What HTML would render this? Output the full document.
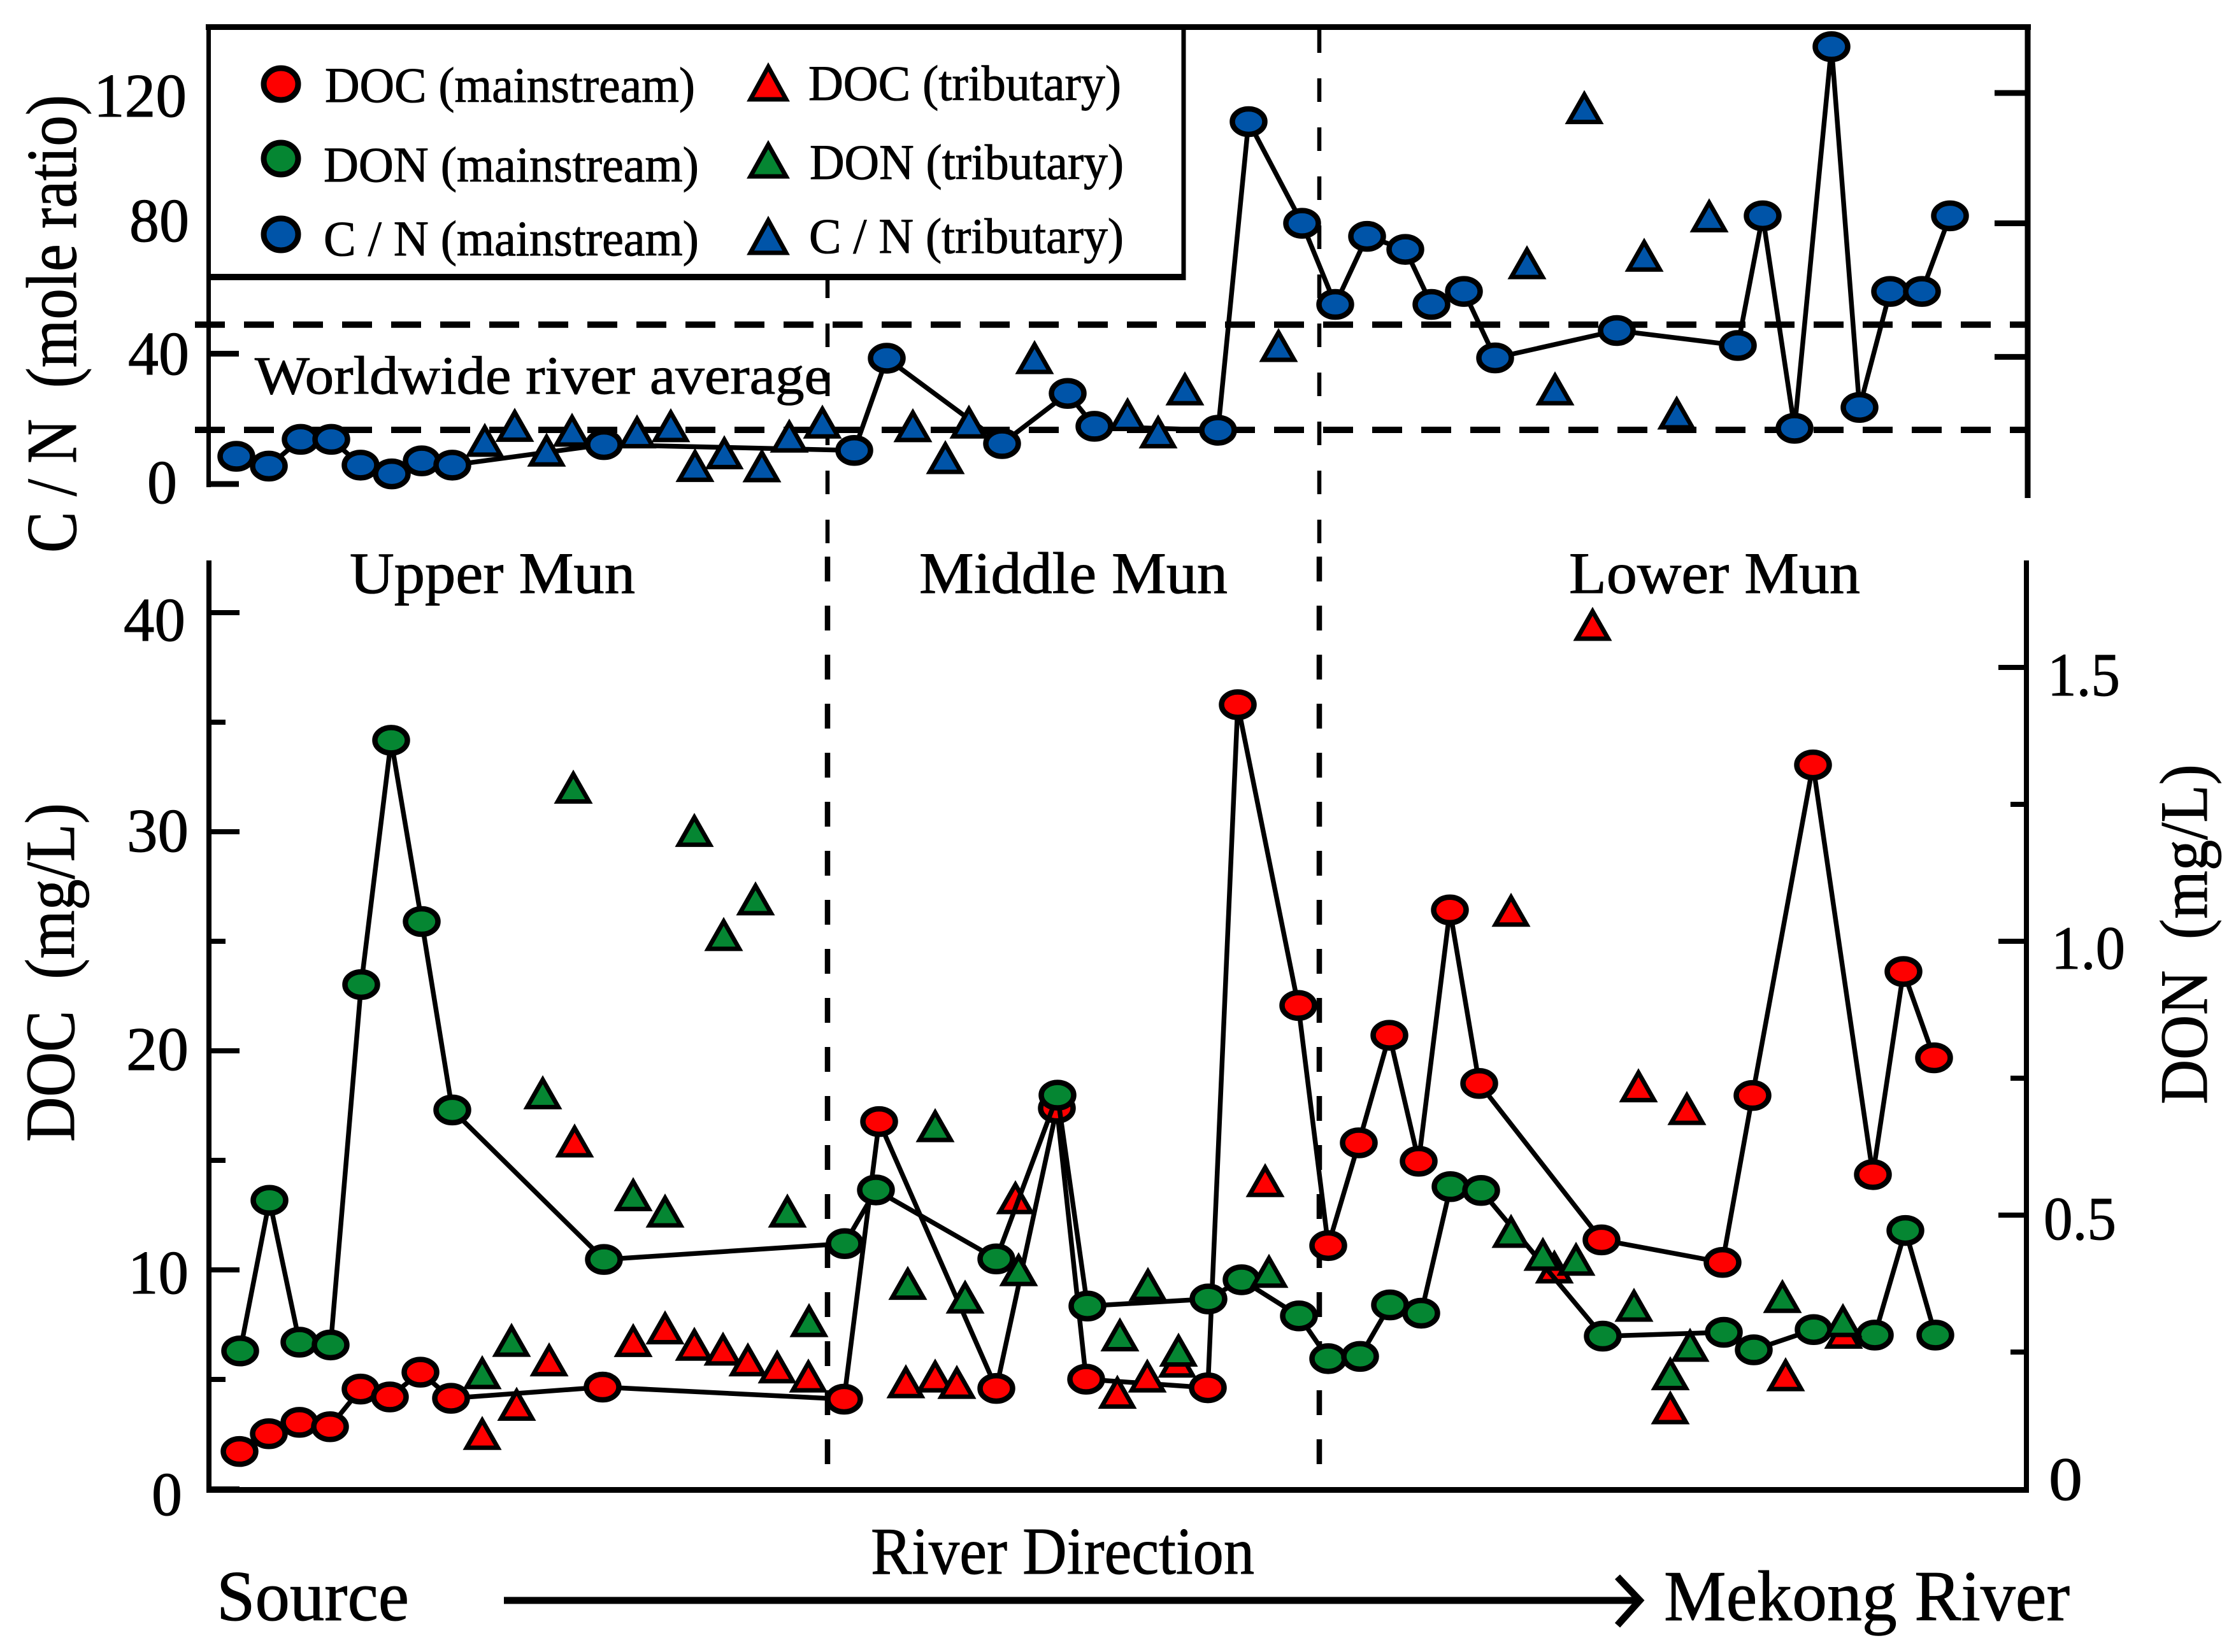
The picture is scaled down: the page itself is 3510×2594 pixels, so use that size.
<!DOCTYPE html>
<html>
<head>
<meta charset="utf-8">
<title>DOC, DON and C/N along the Mun River</title>
<style>
html,body{margin:0;padding:0;background:#fff;}
svg{display:block;}
text{font-family:"Liberation Serif",serif;fill:#000;stroke:#000;stroke-width:1;white-space:pre;}
</style>
</head>
<body>
<svg id="chart" xmlns="http://www.w3.org/2000/svg" width="3510" height="2594" viewBox="0 0 3510 2594">
<rect x="0" y="0" width="3510" height="2594" fill="#fff"/>
<g id="refs"></g>
<g id="top-series"></g>
<g id="bottom-series"></g>
<g id="axes"></g>

<g>
  <rect x="327" y="42" width="1531" height="393" fill="#fff"/>
  <path d="M1858 42V440" stroke="#000" stroke-width="7" fill="none"/>
  <path d="M327 435H1861" stroke="#000" stroke-width="10" fill="none"/>
  <path d="M323 42.5H1861" stroke="#000" stroke-width="9" fill="none"/>
  <path d="M327.5 42V440" stroke="#000" stroke-width="7" fill="none"/>
  <ellipse cx="441" cy="132" rx="27" ry="25" fill="#fe0000" stroke="#000" stroke-width="9"/>
  <ellipse cx="441" cy="249" rx="27" ry="25" fill="#058632" stroke="#000" stroke-width="9"/>
  <ellipse cx="441" cy="368" rx="27" ry="25" fill="#0054a8" stroke="#000" stroke-width="9"/>
  <polygon points="1206,105 1178,156 1234,156" fill="#fe0000" stroke="#000" stroke-width="7"/>
  <polygon points="1206,227 1178,277 1234,277" fill="#058632" stroke="#000" stroke-width="7"/>
  <polygon points="1206,346 1178,397 1234,397" fill="#0054a8" stroke="#000" stroke-width="7"/>
  <text x="510" y="160" font-size="78" textLength="581" lengthAdjust="spacingAndGlyphs">DOC (mainstream)</text>
  <text x="508" y="285" font-size="78" textLength="589" lengthAdjust="spacingAndGlyphs">DON (mainstream)</text>
  <text x="508" y="401" font-size="78" textLength="589" lengthAdjust="spacingAndGlyphs">C / N (mainstream)</text>
  <text x="1269" y="157" font-size="78" textLength="491" lengthAdjust="spacingAndGlyphs">DOC (tributary)</text>
  <text x="1271" y="281" font-size="78" textLength="493" lengthAdjust="spacingAndGlyphs">DON (tributary)</text>
  <text x="1270" y="397" font-size="78" textLength="494" lengthAdjust="spacingAndGlyphs">C / N (tributary)</text>
</g>

<text x="400" y="618" font-size="85" textLength="903" lengthAdjust="spacingAndGlyphs">Worldwide river average</text>

<text x="147" y="183" font-size="98" textLength="146" lengthAdjust="spacingAndGlyphs">120</text>
<text x="203" y="379" font-size="98" textLength="94" lengthAdjust="spacingAndGlyphs">80</text>
<text x="201" y="588" font-size="98" textLength="96" lengthAdjust="spacingAndGlyphs">40</text>
<text x="231" y="790" font-size="98" textLength="47" lengthAdjust="spacingAndGlyphs">0</text>
<text transform="translate(119,868) rotate(-90)" font-size="112" textLength="719" lengthAdjust="spacingAndGlyphs">C / N  (mole ratio)</text>

<text x="194" y="1006" font-size="98" textLength="97" lengthAdjust="spacingAndGlyphs">40</text>
<text x="199" y="1337" font-size="98" textLength="97" lengthAdjust="spacingAndGlyphs">30</text>
<text x="198" y="1680" font-size="98" textLength="98" lengthAdjust="spacingAndGlyphs">20</text>
<text x="201" y="2031" font-size="98" textLength="95" lengthAdjust="spacingAndGlyphs">10</text>
<text x="238" y="2379" font-size="98" textLength="48" lengthAdjust="spacingAndGlyphs">0</text>
<text transform="translate(116,1793) rotate(-90)" font-size="110" textLength="532" lengthAdjust="spacingAndGlyphs">DOC  (mg/L)</text>

<text x="3214" y="1092" font-size="96" textLength="114" lengthAdjust="spacingAndGlyphs">1.5</text>
<text x="3220" y="1521" font-size="96" textLength="116" lengthAdjust="spacingAndGlyphs">1.0</text>
<text x="3208" y="1946" font-size="96" textLength="114" lengthAdjust="spacingAndGlyphs">0.5</text>
<text x="3216" y="2355" font-size="96" textLength="53" lengthAdjust="spacingAndGlyphs">0</text>
<text transform="translate(3464,1734) rotate(-90)" font-size="106" textLength="534" lengthAdjust="spacingAndGlyphs">DON  (mg/L)</text>

<text x="549" y="931" font-size="92" textLength="448" lengthAdjust="spacingAndGlyphs">Upper Mun</text>
<text x="1443" y="931" font-size="92" textLength="484" lengthAdjust="spacingAndGlyphs">Middle Mun</text>
<text x="2463" y="931" font-size="92" textLength="457" lengthAdjust="spacingAndGlyphs">Lower Mun</text>

<text x="1367" y="2471" font-size="105" textLength="602" lengthAdjust="spacingAndGlyphs">River Direction</text>
<text x="340" y="2544" font-size="112" textLength="302" lengthAdjust="spacingAndGlyphs">Source</text>
<text x="2612" y="2544" font-size="112" textLength="637" lengthAdjust="spacingAndGlyphs">Mekong River</text>
<path d="M791 2513H2570" stroke="#000" stroke-width="11" fill="none"/>
<path d="M2539 2476L2574 2513L2539 2552" stroke="#000" stroke-width="11" fill="none"/>
</svg>

<script>
// River position (arbitrary along-channel units, 0 = left axis, 2853 = right axis)
const docMainX = [48,94,142,190,238,284,332,380,618,997,1052,1236,1331,1377,1568,1615,1710,1757,1805,1853,1899,1948,1994,2186,2376,2423,2518,2612,2660,2708];
const docMainValues = [1.71,2.52,3.04,2.84,4.56,4.20,5.33,4.14,4.65,4.10,16.77,4.59,17.38,5.01,4.62,35.80,22.07,11.11,15.80,20.71,14.96,26.43,18.51,11.37,10.34,17.96,33.05,14.35,23.62,19.68];
const donMainX = [49,95,142,191,239,286,334,382,620,998,1047,1236,1332,1379,1569,1621,1711,1757,1807,1854,1903,1949,1997,2188,2378,2425,2519,2615,2663,2710];
const donMainValues = [0.252,0.527,0.268,0.263,0.921,1.367,1.036,0.692,0.419,0.448,0.546,0.420,0.719,0.334,0.347,0.382,0.316,0.238,0.242,0.336,0.321,0.552,0.545,0.279,0.286,0.254,0.291,0.281,0.472,0.281];
const cnMainX = [43,94,144,192,238,287,334,382,620,1013,1064,1245,1348,1390,1584,1632,1716,1768,1818,1878,1919,1970,2019,2210,2400,2439,2489,2547,2591,2639,2689,2733];
const cnMainValues = [8.5,5.5,13.7,13.7,5.8,3.1,7.1,5.8,12.1,10.3,38.6,12.4,27.8,17.7,16.5,111.2,80,55.1,76,72,55.1,59.1,38.7,47.1,42.5,82.3,17.1,134.2,23.5,59.1,59.1,82.3];
const docTribX = [429,483,534,574,666,716,762,807,846,892,941,1094,1140,1174,1266,1426,1473,1520,1658,2172,2044,2112,2244,2320,2294,2475,2566];
const docTribValues = [2.55,3.88,5.91,15.90,6.79,7.37,6.62,6.40,5.91,5.59,5.17,4.91,5.17,4.88,13.31,4.43,5.17,5.85,14.09,39.48,26.43,10.15,18.42,17.38,3.72,5.23,7.17];
const donTribX = [429,475,524,572,666,716,762,808,858,908,942,1097,1140,1187,1271,1430,1474,1522,1664,2044,2094,2146,2237,2325,2294,2470,2565];
const donTribValues = [0.213,0.272,0.724,1.282,0.538,0.508,1.203,1.013,1.078,0.508,0.308,0.376,0.664,0.351,0.401,0.282,0.374,0.254,0.398,0.471,0.429,0.420,0.336,0.263,0.211,0.352,0.308];
const cnTribX = [433,480,530,570,672,725,763,809,868,911,963,1105,1156,1193,1296,1442,1490,1532,1679,2159,2069,2355,2253,2113,2304];
const cnTribValues = [13.5,18.1,10.5,16.6,16.1,18.0,5.8,9.7,5.7,14.8,19.1,18.0,8.2,19.1,38.9,21.4,16.1,29.3,42.6,115.6,68,82.4,70.3,29.3,21.9];
const cnAverages = [48.9,16.6];
const reachBoundaries = [971,1743];
const cnLeftTicks = [0,40,80,120];
const cnRightTicks = [39,80,120];
const docMajorTicks = [0,10,20,30,40];
const docMinorTicks = [5,15,25,35];
const donMajorTicks = [0.5,1.0,1.5];
const donMinorTicks = [0.25,0.75,1.25];

const NS = 'http://www.w3.org/2000/svg';
const RED = '#fe0000', GREEN = '#058632', BLUE = '#0054a8';
const xScale = v => 328 + v * (3181 - 328) / 2853;
const yCn = v => 760 - v * 5.117;
const yDoc = v => 2338 - v * 34.4;
const yDon = v => 2338 - v * 860;

function make(parent, tag, attrs) {
  const el = document.createElementNS(NS, tag);
  for (const k in attrs) el.setAttribute(k, attrs[k]);
  parent.appendChild(el);
  return el;
}

function drawSeriesLine(parent, xs, vs, y, name) {
  const pts = xs.map((x, i) => xScale(x).toFixed(1) + ',' + y(vs[i]).toFixed(1)).join(' ');
  const el = make(parent, 'polyline', {points: pts, fill: 'none', stroke: '#000', 'stroke-width': 7.5, 'stroke-linejoin': 'round'});
  
  
}

function drawCircles(parent, xs, vs, y, color, name) {
  xs.forEach((x, i) => {
    const el = make(parent, 'ellipse', {cx: xScale(x), cy: y(vs[i]), rx: 25.5, ry: 20, fill: color, stroke: '#000', 'stroke-width': 8.5});
    
    
  });
}

function drawTriangles(parent, xs, vs, y, color, name) {
  xs.forEach((x, i) => {
    const cx = xScale(x), cy = y(vs[i]);
    const pts = [cx + ',' + (cy - 20), (cx - 24.5) + ',' + (cy + 23), (cx + 24.5) + ',' + (cy + 23)].join(' ');
    const el = make(parent, 'polygon', {points: pts, fill: color, stroke: '#000', 'stroke-width': 7});
    
    
  });
}

function tick(parent, x1, x2, y, width, name) {
  const el = make(parent, 'line', {x1: x1, x2: x2, y1: y, y2: y, stroke: '#000', 'stroke-width': width});
  
  
}

function axisLine(parent, d, width, name) {
  const el = make(parent, 'path', {d: d, stroke: '#000', 'stroke-width': width, fill: 'none'});
  
  
}

const refs = document.getElementById('refs');
cnAverages.forEach(v => {
  const el = make(refs, 'line', {x1: 306, x2: 3181, y1: yCn(v), y2: yCn(v), stroke: '#000', 'stroke-width': 10, 'stroke-dasharray': '47 30'});
  
  
});
reachBoundaries.forEach(v => {
  const x = xScale(v);
  const upper = make(refs, 'line', {x1: x, x2: x, y1: 46, y2: 860, stroke: '#000', 'stroke-width': 6.5, 'stroke-dasharray': '37 40'});
  
  
  const lower = make(refs, 'line', {x1: x, x2: x, y1: 874, y2: 2338, stroke: '#000', 'stroke-width': 8.5, 'stroke-dasharray': '39 38'});
  
  
});

const topG = document.getElementById('top-series');
drawSeriesLine(topG, cnMainX, cnMainValues, yCn, 'cn-mainstream');
drawTriangles(topG, cnTribX, cnTribValues, yCn, BLUE, 'cn-tributary');
drawCircles(topG, cnMainX, cnMainValues, yCn, BLUE, 'cn-mainstream');

const botG = document.getElementById('bottom-series');
drawSeriesLine(botG, docMainX, docMainValues, yDoc, 'doc-mainstream');
drawCircles(botG, docMainX, docMainValues, yDoc, RED, 'doc-mainstream');
drawTriangles(botG, docTribX, docTribValues, yDoc, RED, 'doc-tributary');
drawSeriesLine(botG, donMainX, donMainValues, yDon, 'don-mainstream');
drawCircles(botG, donMainX, donMainValues, yDon, GREEN, 'don-mainstream');
drawTriangles(botG, donTribX, donTribValues, yDon, GREEN, 'don-tributary');

const axes = document.getElementById('axes');
axisLine(axes, 'M323 42.5H3188', 9, 'cn-top-border');
axisLine(axes, 'M327.5 42V765', 7, 'cn-left-axis');
axisLine(axes, 'M3183 38V782', 9, 'cn-right-axis');
axisLine(axes, 'M328 880V2344', 8, 'doc-left-axis');
axisLine(axes, 'M3181 880V2344', 8, 'don-right-axis');
axisLine(axes, 'M324 2339.5H3185', 9, 'x-axis');
cnLeftTicks.forEach(v => tick(axes, 327, 375, yCn(v), 9, 'cn-left-tick'));
cnRightTicks.forEach(v => tick(axes, 3131, 3183, yCn(v), 9, 'cn-right-tick'));
docMajorTicks.forEach(v => tick(axes, 328, 376, yDoc(v), 8, 'doc-major-tick'));
docMinorTicks.forEach(v => tick(axes, 328, 354, yDoc(v), 8, 'doc-minor-tick'));
donMajorTicks.forEach(v => tick(axes, 3137, 3181, yDon(v), 8, 'don-major-tick'));
donMinorTicks.forEach(v => tick(axes, 3156, 3181, yDon(v), 8, 'don-minor-tick'));
</script>
</body>
</html>
